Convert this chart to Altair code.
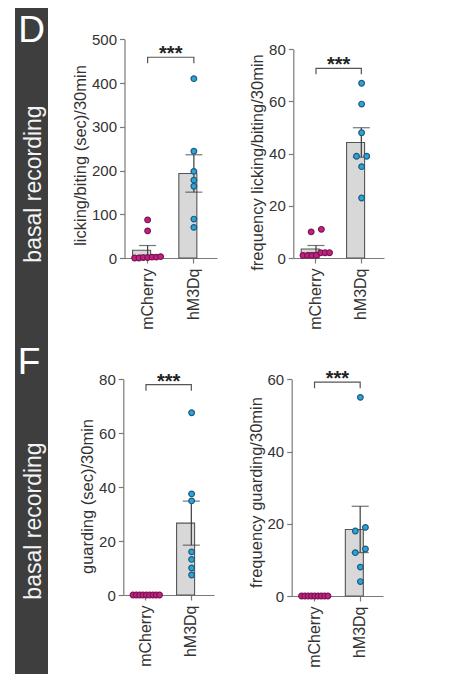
import altair as alt
import pandas as pd

# ---------------- data ----------------
groups = ["mCherry", "hM3Dq"]

lick_sec_mcherry = [87, 62, 0, 0, 1, 1, 2, 2, 3]
lick_sec_hm3dq = [410, 244, 198, 178, 164, 89, 70]
lick_freq_mcherry = [11, 10, 2, 1, 2, 1, 1, 2, 1]
lick_freq_hm3dq = [67, 59, 48, 39, 39, 35, 23]
guard_sec_mcherry = [0, 0, 0, 0, 0, 0, 0, 0, 0]
guard_sec_hm3dq = [67.6, 37.5, 34.9, 16, 13.2, 10, 7.4]
guard_freq_mcherry = [0, 0, 0, 0, 0, 0, 0, 0, 0]
guard_freq_hm3dq = [55, 19, 18, 13, 12, 8, 4]

y_titles = ["licking/biting (sec)/30min", "frequency licking/biting/30min",
            "guarding (sec)/30min", "frequency guarding/30min"]
y_max = [500, 80, 80, 60]
y_ticks = [[0, 100, 200, 300, 400, 500], [0, 20, 40, 60, 80],
           [0, 20, 40, 60, 80], [0, 20, 40, 60]]
sig_levels = [459, 72.7, 78.0, 59.2]
sig_text = "***"
panel_letters = ["D", "F"]
side_label = "basal recording"

# ---------------- layout (pixels) ----------------
FONT = "Liberation Sans"
COL_W = [40, 214, 204]
ROW_H = [332, 334]
# per panel: y-axis x, x-range end, y of zero, y of top tick (view coords)
GEOM = [
    dict(ax=76.5, xr=169.0, y0=250.0, yt=31.3, ty=147),
    dict(ax=31.3, xr=122.0, y0=250.0, yt=41.3, ty=154),
    dict(ax=75.3, xr=166.0, y0=255.0, yt=39.3, ty=156),
    dict(ax=29.7, xr=121.0, y0=256.0, yt=39.3, ty=152),
]
PAD_IN, PAD_OUT = 0.35, 0.175

COLORS_FILL = ["#c51f82", "#2fa3d8"]
COLORS_STROKE = ["#7a1552", "#1d5c7c"]
AXIS_GREY = "#7a7a7a"
TEXT = "#333333"


def spread(values, px_per_unit, row_px=5.5, max_gap=10.0, max_width=26.0):
    order = sorted(range(len(values)), key=lambda i: values[i])
    offs = [0.0] * len(values)
    rows = []
    for i in order:
        if rows and (values[i] - values[rows[-1][0]]) * px_per_unit < row_px:
            rows[-1].append(i)
        else:
            rows.append([i])
    for r in rows:
        k = len(r)
        if k > 1:
            gap = min(max_gap, max_width / (k - 1))
            for j, i in enumerate(r):
                offs[i] = (j - (k - 1) / 2) * gap
    return offs


def panel(idx, mch, hm, row):
    g = GEOM[idx]
    x0, x1 = g["ax"], g["xr"]
    span = x1 - x0
    step = span / (2 - PAD_IN + 2 * PAD_OUT)
    bw = step * (1 - PAD_IN)
    ppu = (g["y0"] - g["yt"]) / y_max[idx]

    rows = []
    for grp, vals in zip(groups, [mch, hm]):
        offs = spread(vals, ppu)
        for v, o in zip(vals, offs):
            rows.append({"group": grp, "value": v, "jit": o / (bw / 2)})
    df = pd.DataFrame(rows)

    ys = alt.Scale(domain=[0, y_max[idx]], range=[g["y0"], g["yt"]], nice=False, zero=True)
    xs = alt.Scale(type="band", domain=groups, range=[x0, x1],
                   paddingInner=PAD_IN, paddingOuter=PAD_OUT)
    yaxis = alt.Axis(title=y_titles[idx], values=y_ticks[idx], offset=-x0,
                     titleY=g["ty"], grid=False)
    xaxis = alt.Axis(title=None, offset=-(ROW_H[row] - g["y0"]), labelAngle=270,
                     labelAlign="right", labelBaseline="middle", grid=False)
    X = alt.X("group:N", sort=groups, scale=xs, axis=xaxis)

    base = alt.Chart(df)
    bars = base.mark_bar(fill="#d8d8d8", stroke="#555555", strokeWidth=1.1).encode(
        x=X, y=alt.Y("mean(value):Q", scale=ys, axis=yaxis))
    err = base.mark_errorbar(extent="stderr", color="#3c3c3c", thickness=1.2,
                             ticks={"size": 17, "thickness": 1.2, "color": "#3c3c3c"}).encode(
        x=X, y=alt.Y("value:Q", scale=ys, axis=yaxis))
    pts = base.mark_circle(size=32, opacity=1, strokeWidth=1.2).encode(
        x=X,
        xOffset=alt.XOffset("jit:Q", scale=alt.Scale(domain=[-1, 1])),
        y=alt.Y("value:Q", scale=ys, axis=yaxis),
        fill=alt.Fill("group:N", scale=alt.Scale(domain=groups, range=COLORS_FILL), legend=None),
        stroke=alt.Stroke("group:N", scale=alt.Scale(domain=groups, range=COLORS_STROKE), legend=None),
    )
    L = sig_levels[idx]
    drop = 6.0 / ppu
    br_df = pd.DataFrame({"group": [groups[0], groups[0], groups[1], groups[1]],
                          "y": [L - drop, L, L, L - drop], "o": [0, 1, 2, 3]})
    bracket = alt.Chart(br_df).mark_line(color="#555555", strokeWidth=1.2).encode(
        x=X, y=alt.Y("y:Q", scale=ys, axis=yaxis), order="o:Q")
    sig_df = pd.DataFrame({"y": [L], "label": [sig_text]})
    stars = alt.Chart(sig_df).mark_text(font=FONT, fontSize=20, fontWeight="bold",
                                        color="#222222", baseline="alphabetic",
                                        align="center", dy=3).encode(
        x=alt.value((x0 + x1) / 2), y=alt.Y("y:Q", scale=ys, axis=yaxis), text="label:N")
    return alt.layer(bars, err, pts, bracket, stars).properties(
        width=COL_W[1 + idx % 2], height=ROW_H[row])


def sidebar(row, letter_x):
    h = ROW_H[row]
    df = pd.DataFrame({"letter": [panel_letters[row]], "label": [side_label]})
    base = alt.Chart(df)
    rect = base.mark_rect(color="#3e3e3e").encode(
        x=alt.value(7), x2=alt.value(40), y=alt.value(0), y2=alt.value(h))
    letter = base.mark_text(font=FONT, fontSize=37, color="#ffffff", align="center",
                            baseline="alphabetic").encode(
        x=alt.value(letter_x), y=alt.value(34), text="letter:N")
    lab = base.mark_text(font=FONT, fontSize=23, color="#f4f4f4", angle=270,
                         align="center", baseline="middle").encode(
        x=alt.value(26), y=alt.value(176 if row == 0 else 181), text="label:N")
    return alt.layer(rect, letter, lab).properties(width=COL_W[0], height=h)


charts = [
    sidebar(0, 23.5),
    panel(0, lick_sec_mcherry, lick_sec_hm3dq, 0),
    panel(1, lick_freq_mcherry, lick_freq_hm3dq, 0),
    sidebar(1, 21),
    panel(2, guard_sec_mcherry, guard_sec_hm3dq, 1),
    panel(3, guard_freq_mcherry, guard_freq_hm3dq, 1),
]

chart = alt.concat(*charts, columns=3, spacing=0, bounds="flush").properties(
    padding=0, background="#ffffff"
).configure(font=FONT).configure_view(stroke=None).configure_axis(
    labelFont=FONT, titleFont=FONT, labelFontSize=15, titleFontSize=16.5,
    labelColor=TEXT, titleColor=TEXT, titleFontWeight="normal",
    domainColor=AXIS_GREY, tickColor=AXIS_GREY, domainWidth=1.2, tickWidth=1.2,
    tickSize=5, labelPadding=3, titlePadding=3
).configure_axisX(labelFontSize=16, labelPadding=5)

chart.save("out.html", embed_options={"renderer": "svg", "actions": False})
